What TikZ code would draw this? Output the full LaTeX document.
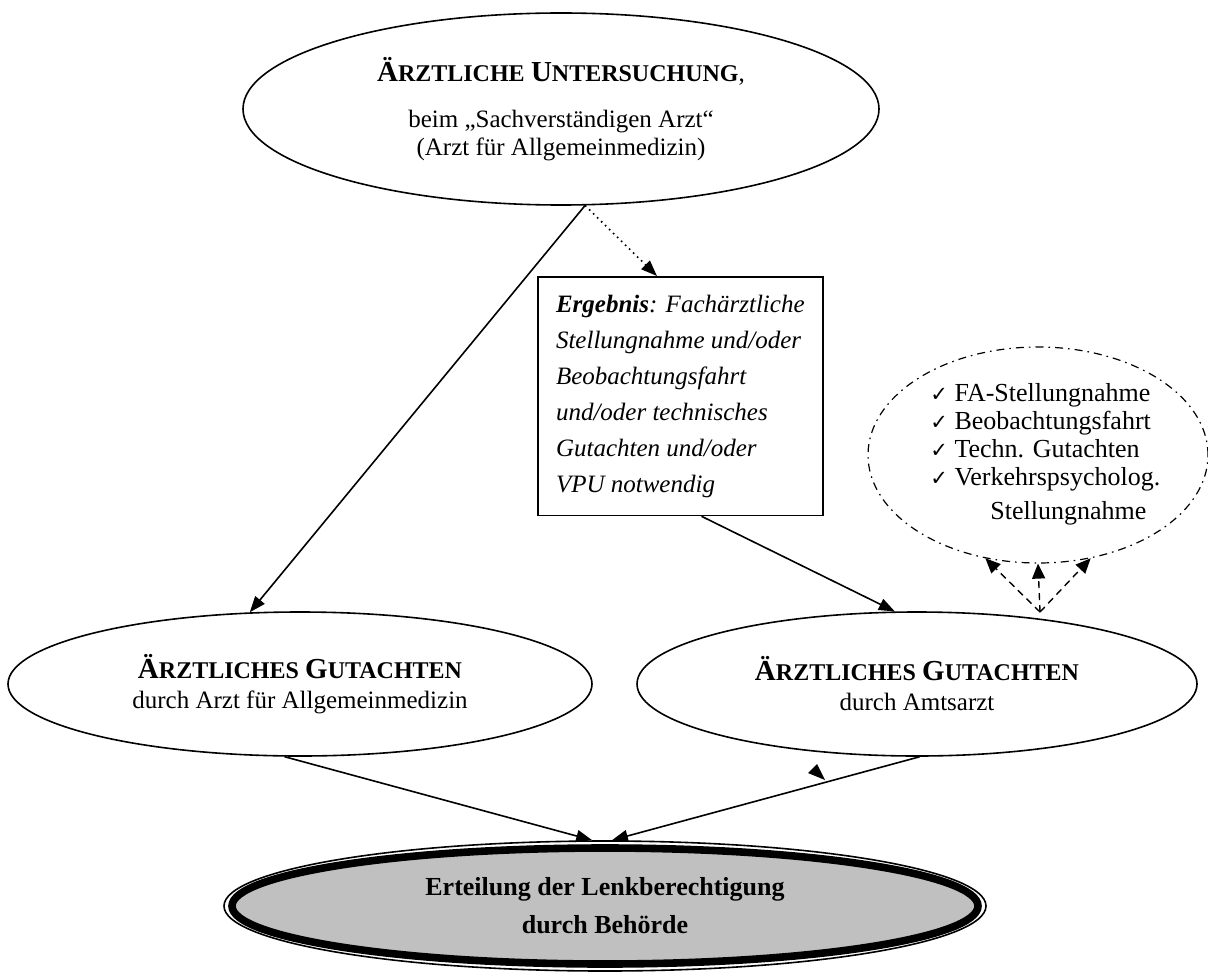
\documentclass[tikz,border=0pt]{standalone}
\usepackage{fontspec}
\setmainfont{Liberation Serif}
\newfontfamily\symb{DejaVu Sans}
\usetikzlibrary{shapes.geometric, arrows.meta, positioning}
\definecolor{grau}{HTML}{C0C0C0}
\newcommand{\kap}[2]{{\fontsize{14.5}{15}\selectfont #1}{\fontsize{12}{15}\selectfont #2}}
\newcommand{\haken}{{\symb\fontsize{10.5}{12}\selectfont ✓}}

\begin{document}
\begin{tikzpicture}[
    x=0.5pt, y=-0.5pt,
    every node/.style={font=\fontsize{12.5}{14}\selectfont},
    oval/.style={ellipse, draw, line width=0.8pt, inner sep=0pt, align=center},
    hinweis/.style={rectangle, draw, line width=0.8pt, align=left, inner xsep=0pt, inner ysep=9pt, minimum width=142.5pt, font=\fontsize{12.5}{18}\selectfont\itshape},
    optional/.style={ellipse, draw, line width=0.6pt, dash pattern=on 4pt off 2.5pt on 0.8pt off 2.5pt, inner sep=0pt, minimum width=170pt, minimum height=108pt},
    pfeil/.style={line width=0.8pt, -{Triangle[length=8pt,width=6pt]}},
    wahl/.style={line width=0.7pt, dash pattern=on 3.5pt off 2.5pt, -{Triangle[length=7.5pt,width=6.5pt]}}
]
\useasboundingbox (0,0) rectangle (1208,973);

% Untersuchung
\node[oval, minimum width=318pt, minimum height=96pt] (unters) at (561,109)
    {\textbf{\kap{Ä}{RZTLICHE} \kap{U}{NTERSUCHUNG}},\\[9pt]
     beim „Sachverständigen Arzt“\\(Arzt für Allgemeinmedizin)};

% Ergebnis
\node[hinweis, anchor=north west] (erg) at (537,276)
    {\textbf{Ergebnis}: Fachärztliche\\Stellungnahme und/oder\\Beobachtungsfahrt\\und/oder technisches\\Gutachten und/oder\\VPU notwendig};

% Zusatzbefunde
\node[optional] (pruef) at (1038,455) {};
\node[anchor=north west, align=left, inner sep=0pt, font=\fontsize{13}{14}\selectfont] (liste) at (930,383)
    {\haken\ FA-Stellungnahme\\\haken\ Beobachtungsfahrt\\\haken\ Techn. Gutachten\\\haken\ Verkehrspsycholog.\\[3pt]\hspace*{30pt}Stellungnahme};

% Gutachten
\node[oval, minimum width=292pt, minimum height=72pt] (gutA) at (300,684)
    {\textbf{\kap{Ä}{RZTLICHES} \kap{G}{UTACHTEN}}\\[1pt]durch Arzt für Allgemeinmedizin};
\node[oval, minimum width=280pt, minimum height=72pt] (gutB) at (917,684)
    {\textbf{\kap{Ä}{RZTLICHES} \kap{G}{UTACHTEN}}\\[1pt]durch Amtsarzt};

% Erteilung
\coordinate (ertmitte) at (605,906);
\draw[line width=3.8pt, fill=grau] (ertmitte) ellipse [x radius=373, y radius=58];
\node[ellipse, draw, line width=0.8pt, inner sep=0pt, minimum width=381pt, minimum height=65pt, align=center, font=\bfseries\fontsize{13}{19}\selectfont] (ert) at (ertmitte)
    {Erteilung der Lenkberechtigung\\durch Behörde};

% Pfeile
\draw[pfeil] (unters.284) -- (gutA.125);
\draw[pfeil, dotted] (unters.284) -- (erg.101);
\draw[pfeil] (erg.-80) -- (gutB.107);
\draw[pfeil] (gutA.258) -- (ert.101);
\draw[pfeil] (gutB.272) -- (ert.84);
\fill (817,764) -- (808,773) -- (825,780) -- cycle;

\coordinate (wahlpunkt) at (1040,612);
\foreach \w in {243,270,297}
    \draw[wahl] (wahlpunkt) -- (pruef.\w);

\end{tikzpicture}
\end{document}
